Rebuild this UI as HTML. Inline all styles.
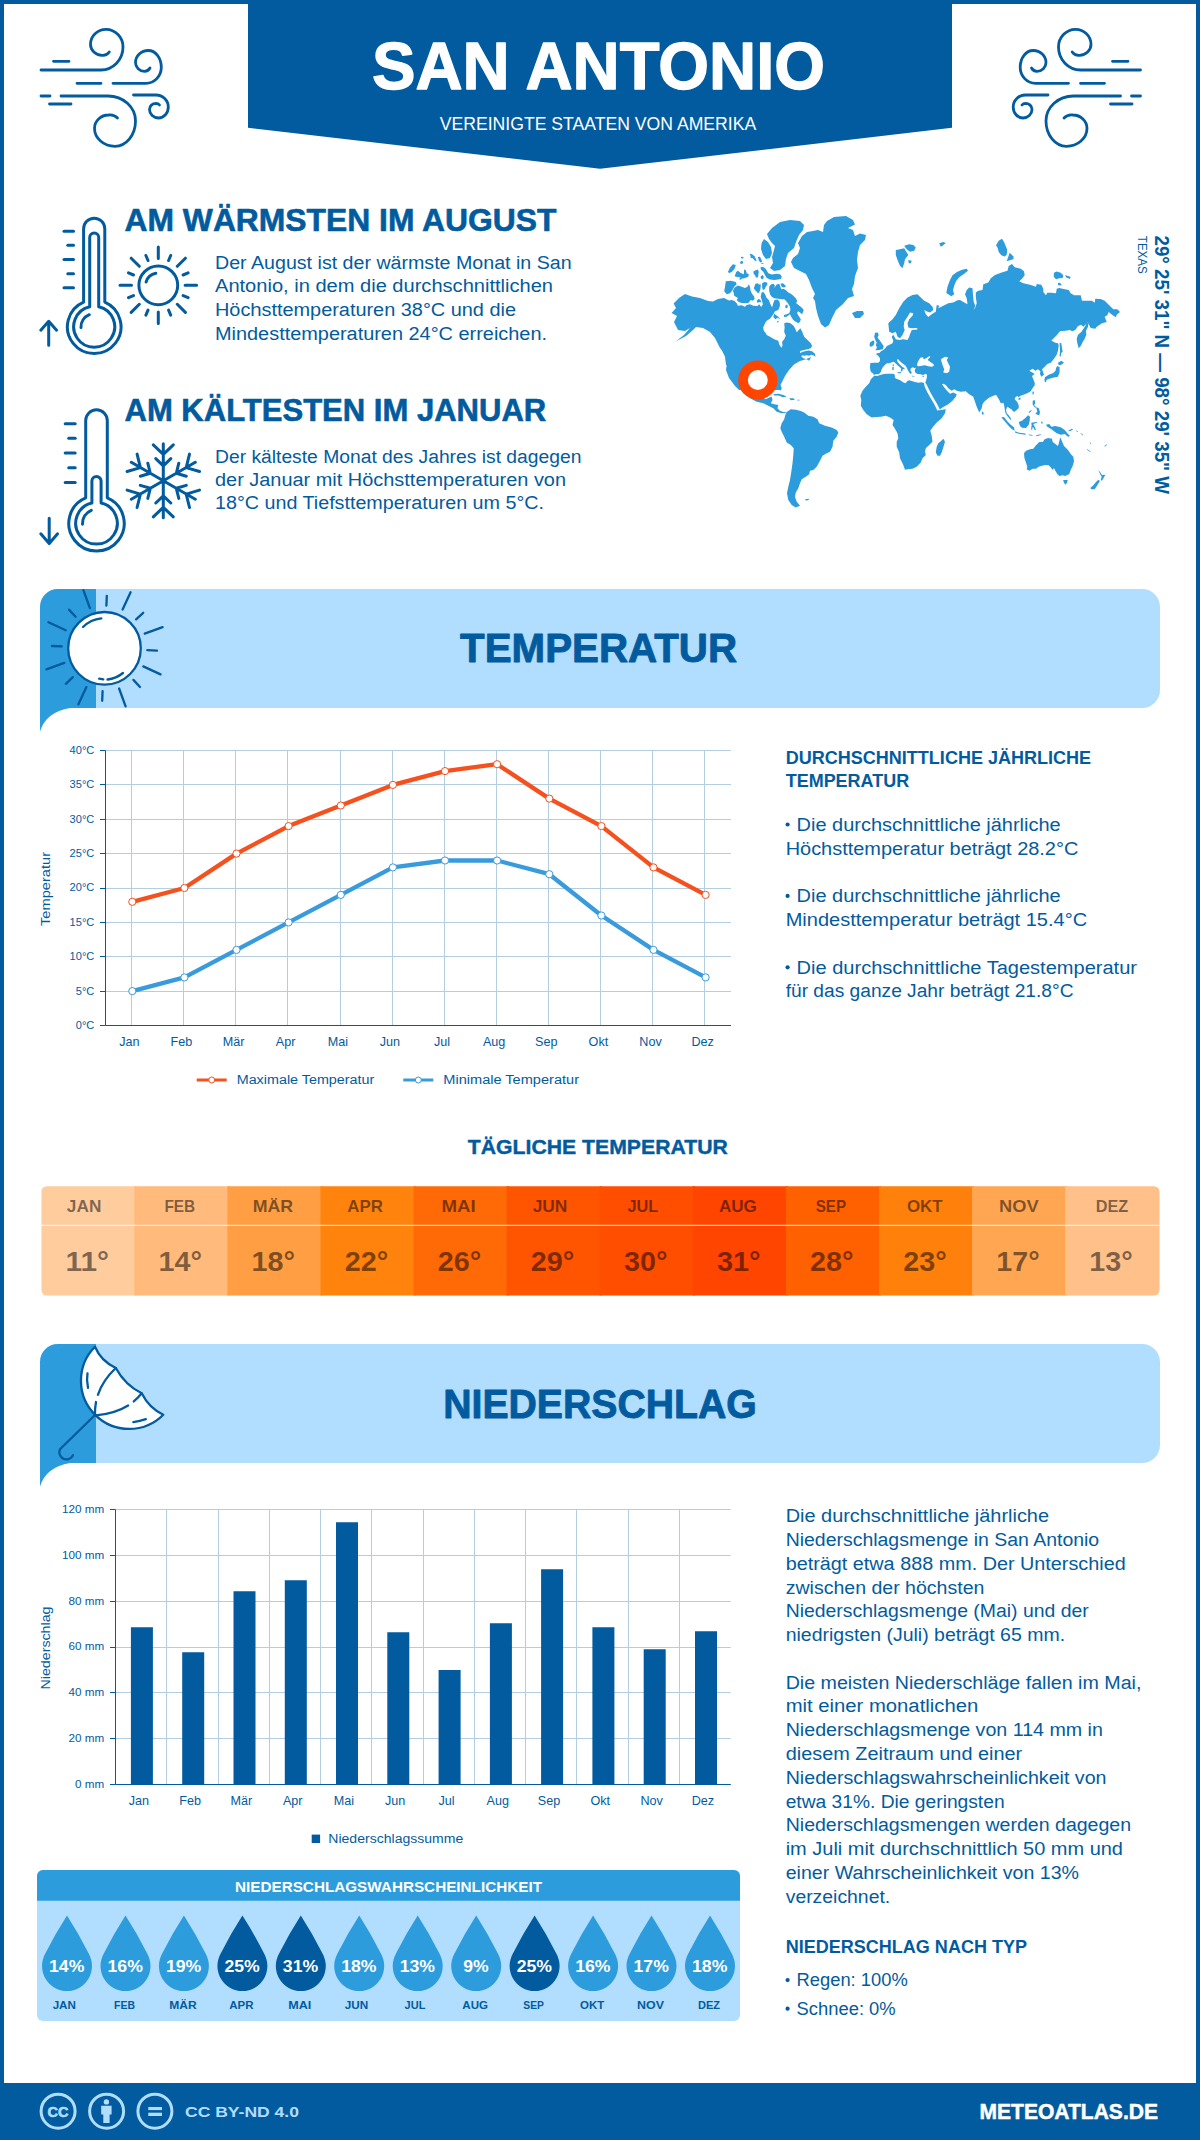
<!DOCTYPE html>
<html lang="de"><head><meta charset="utf-8"><title>San Antonio</title>
<style>
html,body{margin:0;padding:0;background:#fff}
body{width:1200px;height:2140px;overflow:hidden;font-family:"Liberation Sans",sans-serif}
svg{display:block;font-family:"Liberation Sans",sans-serif}
</style></head><body>
<svg width="1200" height="2140" viewBox="0 0 1200 2140">
<rect x="0" y="0" width="1200" height="2140" fill="#025b9e"/>
<rect x="4" y="4" width="1192" height="2079" fill="#fff"/>
<polygon points="248,0 952,0 952,127.8 600,168.8 248,127.8" fill="#025b9e"/>
<text x="598.5" y="89.0" font-size="67" font-weight="700" fill="#fff" stroke="#fff" stroke-width="1.3" stroke-linejoin="round" text-anchor="middle" textLength="453.0" lengthAdjust="spacingAndGlyphs">SAN ANTONIO</text>
<text x="598.0" y="130.4" font-size="18.5" fill="#fff" text-anchor="middle" textLength="316.5" lengthAdjust="spacingAndGlyphs">VEREINIGTE STAATEN VON AMERIKA</text>
<g fill="none" stroke="#025b9e" stroke-width="2.8" stroke-linecap="round" stroke-linejoin="round" ><path d="M41,70 H101 A22,23 0 0 0 123,47 A17,17.7 0 0 0 106,29.3 A15.5,15 0 0 0 90.5,44.3 A11.5,11 0 0 0 102,55.3 A8,8 0 0 0 109.3,52"/><path d="M113,83.3 H146 A15.3,16 0 0 0 161.3,67.3 A13,16.8 0 0 0 148.3,50.5 A12.8,12 0 0 0 135.5,62.5 A9,8.8 0 0 0 144.5,71.3 A6.5,6 0 0 0 150,68"/><path d="M61,96 H108 A27.5,25 0 0 1 135.5,121 A20.5,25.3 0 0 1 115,146.3 A20.5,18 0 0 1 94.5,128.3 A14,13.3 0 0 1 108.5,115 A10,9 0 0 1 117.5,118"/><path d="M133.5,95 H156 A12.3,12 0 0 1 168.3,107 A9.8,11 0 0 1 158.5,118 A9,8.5 0 0 1 149.5,109.5 A6.5,6.2 0 0 1 156,103.3 A4.5,4 0 0 1 159.5,105"/><path d="M53.5,61.3 H69 M77,83.3 H101 M41,96 H50 M49.5,104 H71"/></g>
<g fill="none" stroke="#025b9e" stroke-width="2.8" stroke-linecap="round" stroke-linejoin="round" transform="translate(1181.5,0) scale(-1,1)"><path d="M41,70 H101 A22,23 0 0 0 123,47 A17,17.7 0 0 0 106,29.3 A15.5,15 0 0 0 90.5,44.3 A11.5,11 0 0 0 102,55.3 A8,8 0 0 0 109.3,52"/><path d="M113,83.3 H146 A15.3,16 0 0 0 161.3,67.3 A13,16.8 0 0 0 148.3,50.5 A12.8,12 0 0 0 135.5,62.5 A9,8.8 0 0 0 144.5,71.3 A6.5,6 0 0 0 150,68"/><path d="M61,96 H108 A27.5,25 0 0 1 135.5,121 A20.5,25.3 0 0 1 115,146.3 A20.5,18 0 0 1 94.5,128.3 A14,13.3 0 0 1 108.5,115 A10,9 0 0 1 117.5,118"/><path d="M133.5,95 H156 A12.3,12 0 0 1 168.3,107 A9.8,11 0 0 1 158.5,118 A9,8.5 0 0 1 149.5,109.5 A6.5,6.2 0 0 1 156,103.3 A4.5,4 0 0 1 159.5,105"/><path d="M53.5,61.3 H69 M77,83.3 H101 M41,96 H50 M49.5,104 H71"/></g>
<g fill="none" stroke="#025b9e" stroke-width="3" stroke-linecap="round" stroke-linejoin="round">
<path d="M83.6,302.1 V228.8 A10.6,10.6 0 0 1 104.8,228.8 V302.1 A26.8,26.8 0 1 1 83.6,302.1Z"/>
<path d="M89.7,306.7 V237.5 A4.5,4.5 0 0 1 98.7,237.5 V306.7 A20.5,20.5 0 1 1 89.7,306.7Z"/>
<path d="M64.0,231.2 H73.5"/>
<path d="M67.8,245.3 H73.5"/>
<path d="M64.0,259.5 H73.5"/>
<path d="M67.8,273.7 H73.5"/>
<path d="M64.0,287.8 H73.5"/>
<path d="M81,327.6 A13.3,13.3 0 0 1 89.3,314.7"/>
<path d="M48.7,321.5 V345.2 M40.8,330.2 L48.7,321.3 L56.6,330.2"/>
<circle cx="158.3" cy="285.3" r="19.4"/>
<path d="M146.1,282 A12.6,12.6 0 0 1 155.8,273.3"/>
<path d="M185.1,285.3 L196.6,285.3M183.1,295.6 L188.1,297.7M177.3,304.3 L185.4,312.4M168.6,310.1 L170.7,315.1M158.3,312.1 L158.3,323.6M148.0,310.1 L145.9,315.1M139.3,304.3 L131.2,312.4M133.5,295.6 L128.5,297.7M131.5,285.3 L120.0,285.3M133.5,275.0 L128.5,272.9M139.3,266.3 L131.2,258.2M148.0,260.5 L145.9,255.5M158.3,258.5 L158.3,247.0M168.6,260.5 L170.7,255.5M177.3,266.3 L185.4,258.2M183.1,275.0 L188.1,272.9"/>
<path d="M85.7,497.8 V420.6 A10.8,10.8 0 0 1 107.3,420.6 V497.8 A27.7,27.7 0 1 1 85.7,497.8Z"/>
<path d="M91.9,503.0 V481.1 A4.6,4.6 0 0 1 101.1,481.1 V503.0 A20.8,20.8 0 1 1 91.9,503.0Z"/>
<path d="M65.2,423.7 H75.2"/>
<path d="M68.7,438.3 H75.2"/>
<path d="M65.2,453.0 H75.2"/>
<path d="M68.7,467.7 H75.2"/>
<path d="M65.2,482.5 H75.2"/>
<path d="M82.5,524.2 A14,14 0 0 1 91.3,510.3"/>
<path d="M49.2,518.2 V543 M40.8,533.8 L49.2,543.5 L57.6,533.8"/>
<path d="M163.3,480.8 L163.3,443.8M163.3,465.8 L170.8,458.6M163.3,465.8 L155.8,458.6M163.3,454.3 L173.3,444.8M163.3,454.3 L153.3,444.8M163.3,480.8 L131.3,462.3M150.3,473.3 L147.8,463.2M150.3,473.3 L140.3,476.2M140.4,467.6 L137.1,454.1M140.4,467.6 L127.1,471.5M163.3,480.8 L131.3,499.3M150.3,488.3 L140.3,485.4M150.3,488.3 L147.8,498.4M140.4,494.1 L127.1,490.1M140.4,494.1 L137.1,507.5M163.3,480.8 L163.3,517.8M163.3,495.8 L155.8,503.0M163.3,495.8 L170.8,503.0M163.3,507.3 L153.3,516.8M163.3,507.3 L173.3,516.8M163.3,480.8 L195.3,499.3M176.3,488.3 L178.8,498.4M176.3,488.3 L186.3,485.4M186.2,494.1 L189.5,507.5M186.2,494.1 L199.5,490.1M163.3,480.8 L195.3,462.3M176.3,473.3 L186.3,476.2M176.3,473.3 L178.8,463.2M186.2,467.6 L199.5,471.5M186.2,467.6 L189.5,454.1"/>
</g>
<text x="124.5" y="231.3" font-size="31.2" font-weight="700" fill="#025b9e" stroke="#025b9e" stroke-width="0.6" stroke-linejoin="round" textLength="432.0" lengthAdjust="spacingAndGlyphs">AM WÄRMSTEN IM AUGUST</text>
<text x="215.0" y="268.5" font-size="17.6" fill="#025b9e" textLength="356.6" lengthAdjust="spacingAndGlyphs">Der August ist der wärmste Monat in San</text>
<text x="215.0" y="292.3" font-size="17.6" fill="#025b9e" textLength="338.0" lengthAdjust="spacingAndGlyphs">Antonio, in dem die durchschnittlichen</text>
<text x="215.0" y="316.1" font-size="17.6" fill="#025b9e" textLength="301.0" lengthAdjust="spacingAndGlyphs">Höchsttemperaturen 38°C und die</text>
<text x="215.0" y="339.9" font-size="17.6" fill="#025b9e" textLength="332.0" lengthAdjust="spacingAndGlyphs">Mindesttemperaturen 24°C erreichen.</text>
<text x="124.5" y="421.0" font-size="31.2" font-weight="700" fill="#025b9e" stroke="#025b9e" stroke-width="0.6" stroke-linejoin="round" textLength="421.7" lengthAdjust="spacingAndGlyphs">AM KÄLTESTEN IM JANUAR</text>
<text x="215.0" y="462.9" font-size="17.6" fill="#025b9e" textLength="366.4" lengthAdjust="spacingAndGlyphs">Der kälteste Monat des Jahres ist dagegen</text>
<text x="215.0" y="485.9" font-size="17.6" fill="#025b9e" textLength="351.0" lengthAdjust="spacingAndGlyphs">der Januar mit Höchsttemperaturen von</text>
<text x="215.0" y="508.9" font-size="17.6" fill="#025b9e" textLength="329.0" lengthAdjust="spacingAndGlyphs">18°C und Tiefsttemperaturen um 5°C.</text>
<path d="M685.0,294.0 692.0,296.4 700.0,298.0 708.0,301.0 713.0,301.6 718.0,299.0 724.0,298.0 729.0,300.4 731.7,300.0 734.6,301.0 736.7,303.3 737.9,305.8 741.7,305.2 745.0,306.8 746.7,305.0 750.0,304.2 753.3,305.7 757.5,306.0 759.2,304.2 761.2,307.1 762.9,304.2 761.7,300.0 760.7,296.7 761.5,292.7 763.3,291.7 765.0,294.2 766.7,297.9 768.8,300.0 770.0,303.3 772.1,307.5 773.3,303.3 774.6,300.0 777.5,299.6 779.6,301.7 780.0,305.8 778.3,310.0 775.0,311.2 773.3,314.2 770.0,318.8 766.7,320.8 765.0,323.3 763.2,327.5 763.8,330.8 765.8,333.3 766.7,335.0 770.0,336.7 774.2,339.2 778.3,340.8 779.2,344.2 781.2,347.7 782.5,345.8 782.1,341.7 784.2,339.2 785.8,335.8 784.2,332.1 784.6,327.5 784.2,323.3 786.7,322.5 790.0,322.9 793.3,325.4 795.0,328.3 796.7,332.3 798.8,330.0 800.4,328.3 802.5,332.5 804.2,336.7 807.5,340.0 810.8,343.3 812.1,345.8 811.0,348.0 808.5,349.0 805.2,349.8 801.0,350.7 797.3,352.7 794.7,355.3 793.3,357.9 795.2,358.0 796.5,355.7 799.0,353.5 802.3,352.0 805.8,351.1 808.7,350.4 810.5,351.1 812.0,351.2 815.0,353.8 815.5,356.8 813.3,355.3 811.0,354.8 809.3,355.8 806.7,355.2 804.2,355.8 802.5,355.2 801.2,356.2 803.3,358.3 806.7,359.2 809.2,360.8 811.0,357.0 805.0,359.6 800.0,361.0 794.0,364.4 789.0,370.0 785.0,376.0 782.0,382.0 780.0,386.0 781.0,390.0 739.0,390.0 735.0,386.0 729.0,378.0 726.0,370.0 727.0,362.0 725.0,354.0 720.0,348.0 715.0,338.0 710.0,332.0 703.0,328.0 696.0,327.0 693.0,330.0 686.0,336.0 675.6,341.6 684.0,335.0 690.0,328.0 685.0,331.0 678.0,330.0 674.0,322.0 677.0,316.0 671.6,313.0 676.0,308.0 673.6,303.6 679.0,298.0ZM800.0,350.0 800.0,357.5 795.0,361.7 790.8,366.7 787.5,370.8 785.8,375.0 781.7,378.3 779.7,381.7 780.0,383.3 781.7,388.3 780.8,390.8 778.3,387.5 777.5,384.2 775.8,380.8 771.7,380.0 766.7,381.3 761.7,385.8 760.8,391.7 762.0,396.7 765.8,399.2 769.2,397.5 771.7,396.7 772.5,400.0 770.8,403.3 774.2,404.2 778.3,405.0 777.5,408.3 780.0,410.8 783.3,412.0 786.7,412.0 785.0,413.0 781.7,413.3 776.7,411.7 773.3,408.3 768.3,405.8 763.3,403.3 756.7,401.7 750.0,398.3 743.3,393.3 739.2,387.5 735.0,380.0 730.8,375.0 727.5,370.0 725.8,363.3 725.0,356.7 721.7,350.0ZM773.3,394.2 778.3,393.7 783.3,395.0 786.7,396.7 783.3,397.2 778.3,395.5 774.2,395.5ZM789.2,398.3 793.3,398.3 795.0,399.7 790.8,400.2ZM797.5,399.7 799.5,399.7 799.5,400.5 797.5,400.5ZM786.7,412.0 790.8,409.2 795.8,409.7 800.0,410.8 804.2,412.5 808.3,415.8 813.3,416.7 817.5,419.2 819.2,423.3 825.0,425.8 831.7,427.5 836.7,430.0 838.3,432.5 836.7,436.7 833.3,440.8 832.5,446.7 830.0,451.7 826.7,453.3 822.5,455.8 820.0,460.8 816.7,466.7 813.3,470.0 810.0,470.8 809.2,474.2 805.8,476.7 801.7,479.2 800.0,483.3 798.3,488.3 795.8,492.5 795.0,496.7 796.7,501.7 800.0,505.8 795.8,507.5 791.7,505.0 788.3,500.0 787.0,493.3 788.3,486.7 790.0,480.0 791.3,471.7 792.5,463.3 793.3,455.0 793.7,448.3 790.8,445.0 786.7,442.5 784.2,436.7 781.7,431.7 780.3,428.3 781.7,423.3 784.2,419.2 785.3,415.0ZM805.0,499.2 809.2,498.7 808.3,500.3 805.8,500.5ZM824.0,225.0 827.0,221.0 834.0,217.0 846.0,216.0 853.0,220.0 855.0,224.4 848.0,228.0 853.0,230.0 855.0,236.0 860.0,233.6 866.0,235.0 865.0,240.0 860.0,245.0 858.0,252.0 857.0,260.0 858.0,268.0 855.0,276.0 854.0,284.0 852.0,289.0 854.0,296.0 848.0,298.0 843.0,304.0 836.0,310.0 832.0,318.0 829.0,325.0 825.0,327.6 821.0,324.0 818.0,316.0 816.0,308.0 815.0,301.0 813.0,298.0 815.0,294.0 812.0,288.0 809.0,280.0 806.0,274.0 800.0,271.0 794.0,268.0 791.0,262.0 793.0,258.0 798.0,254.0 800.0,248.0 798.0,243.0 802.0,236.0 807.0,232.0 813.0,231.0 818.0,230.0 823.0,232.0ZM767.0,234.0 772.0,228.0 780.0,222.0 790.0,220.0 800.0,221.0 804.0,225.0 803.0,230.0 799.0,235.0 796.0,242.0 794.0,248.0 788.0,253.0 786.0,259.0 785.0,266.0 780.0,270.0 774.0,271.0 770.0,268.0 773.0,263.0 772.0,257.0 774.0,250.0 775.0,246.0 772.0,243.0 769.0,239.0ZM764.0,239.0 768.0,242.0 771.0,247.0 772.0,253.0 770.0,258.0 766.0,259.0 763.0,255.0 761.0,249.0 761.6,243.0ZM725.8,281.2 730.8,280.7 735.8,282.1 736.7,284.2 734.2,286.7 732.1,290.8 730.0,293.3 726.7,294.2 724.2,291.2 725.0,286.7ZM737.9,285.4 741.7,286.7 745.0,287.9 747.5,286.7 748.8,284.2 750.0,286.7 750.4,290.0 751.7,293.3 754.2,296.7 754.6,299.2 752.5,300.8 750.8,300.0 748.3,302.9 745.0,303.3 741.7,302.9 738.8,302.1 736.7,300.0 737.9,297.9 734.2,295.8 733.8,293.3 732.9,290.8 734.6,287.5ZM727.9,272.1 730.0,267.5 732.9,264.2 735.8,265.0 734.6,268.8 731.7,272.1 729.2,272.9ZM734.6,276.2 736.2,272.1 737.9,270.8 740.8,272.9 743.8,274.2 744.2,269.6 745.8,270.0 746.7,273.3 748.8,274.2 748.3,276.7 745.0,277.9 741.7,278.8 740.0,280.0 739.2,278.8 740.8,277.5 737.1,277.1ZM740.8,257.1 742.9,256.7 743.8,257.9 741.7,258.8ZM740.0,262.1 742.1,260.8 743.3,262.1 742.5,263.8 740.4,263.8ZM749.6,253.8 752.1,254.2 754.6,256.2 755.8,258.8 756.7,261.2 754.6,260.4 752.9,258.3 750.8,257.9 750.4,255.8ZM757.9,257.1 760.0,256.7 761.2,259.2 762.1,261.7 760.4,262.5 758.8,260.4ZM761.2,262.9 763.3,262.9 763.3,264.0 761.5,263.8ZM753.3,271.7 755.0,270.4 757.9,269.6 758.8,271.7 758.3,275.0 757.9,277.5 755.8,277.5 755.0,275.0 753.8,274.2ZM760.8,276.2 762.5,275.0 763.8,276.7 763.3,278.8 761.7,279.2 760.7,277.9ZM760.4,267.5 762.1,266.7 765.0,267.9 766.7,270.4 768.3,273.3 771.7,274.6 776.7,273.8 780.0,274.2 781.7,276.2 781.2,278.8 778.3,279.6 774.2,280.0 770.0,279.6 766.7,277.9 765.0,275.0 763.3,271.7 761.2,270.0ZM753.8,288.3 755.4,283.8 757.9,283.3 759.2,285.0 760.0,283.3 760.8,285.4 760.4,289.2 759.2,292.5 757.9,293.3 756.7,291.7 755.0,290.0ZM762.1,283.3 764.2,282.1 767.1,282.5 767.5,284.2 765.8,286.7 764.6,289.2 762.9,290.0 762.1,287.5ZM756.7,300.8 758.8,298.8 760.8,300.4 761.2,302.5 759.2,302.1 757.5,302.9ZM769.2,286.7 770.8,284.6 773.3,283.8 775.0,285.4 774.2,287.9 776.7,284.6 779.2,283.8 780.4,286.7 781.2,289.2 783.3,288.8 785.8,290.0 788.3,292.5 790.8,293.8 793.3,295.8 795.8,298.3 797.1,300.8 796.2,303.3 799.2,305.4 802.1,307.9 803.8,310.0 802.1,314.2 800.0,312.5 797.9,311.2 797.1,313.3 799.2,316.7 800.8,319.2 800.0,321.7 798.3,323.3 795.8,321.7 793.3,320.0 791.2,316.7 790.0,314.2 786.7,316.7 784.2,317.1 783.8,315.0 786.7,314.2 789.2,313.3 790.4,310.0 790.0,306.7 787.9,303.3 785.8,300.8 784.2,299.2 781.7,299.2 778.3,298.8 774.2,298.3 771.7,296.7 770.0,294.2 769.2,290.8ZM780.4,283.8 782.9,283.3 785.4,285.4 785.8,287.1 783.3,287.5 781.7,286.7ZM785.4,305.4 787.1,304.6 787.9,306.2 787.1,308.3 785.4,307.9ZM774.2,313.8 778.3,316.7 780.4,319.2 777.5,317.7 775.4,319.3 773.3,317.1ZM777.1,321.2 778.8,320.8 778.3,322.3 777.1,322.5ZM852.0,313.0 857.0,311.0 863.0,311.0 864.0,314.0 860.0,318.0 855.0,318.0ZM874.3,375.7 877.0,376.0 880.3,375.0 883.7,374.0 887.7,373.7 891.7,373.7 894.3,374.0 895.0,376.3 894.7,377.7 897.0,379.0 900.3,380.3 903.0,382.3 905.7,383.3 907.0,381.3 909.0,380.3 911.7,381.0 915.0,382.0 918.3,382.7 921.7,382.3 924.0,382.9 924.3,385.0 925.0,387.5 927.7,393.0 931.0,398.7 933.7,403.3 936.0,407.7 937.3,410.5 945.8,409.2 945.0,413.3 941.7,418.3 936.7,422.5 932.5,427.5 930.3,430.8 931.7,435.8 932.5,441.7 929.2,445.0 925.8,448.3 925.0,451.7 925.8,455.0 922.5,458.3 920.8,462.5 916.7,466.7 912.5,468.7 907.5,469.2 905.0,469.7 903.3,465.0 900.0,458.3 899.2,452.5 896.7,446.7 896.7,441.7 898.3,438.3 897.5,433.3 894.2,427.5 892.5,425.0 893.7,420.0 890.0,417.5 885.8,415.8 880.8,416.7 875.8,417.0 871.7,417.5 866.7,414.2 863.3,410.0 860.8,405.8 861.3,400.0 860.3,395.8 862.5,390.8 865.8,386.7 869.2,383.3 870.8,379.2ZM943.3,438.7 945.0,441.7 943.3,447.5 941.7,452.5 940.0,455.8 937.5,455.8 935.8,452.5 936.7,446.7 938.3,443.3 940.8,441.3ZM982.5,411.3 983.8,413.3 983.0,415.3 981.7,413.3ZM874.0,375.3 873.0,373.3 871.3,372.3 870.3,370.3 870.0,367.0 870.3,363.0 874.3,362.7 878.3,362.7 880.0,361.0 880.0,358.3 878.3,356.0 876.3,354.3 876.7,353.3 879.3,353.0 881.0,351.3 883.7,349.7 885.7,347.7 887.0,345.7 887.5,345.8 892.5,343.3 893.3,340.8 891.7,336.7 893.3,334.7 895.8,339.2 899.2,340.0 903.3,339.2 907.5,340.0 909.2,336.7 910.0,334.2 911.7,330.0 917.5,329.5 917.0,328.0 911.7,328.3 908.3,327.5 907.5,323.3 909.2,319.2 912.5,315.8 913.3,313.3 910.0,312.5 907.5,316.7 904.2,321.7 903.7,326.7 904.7,330.0 902.5,335.0 900.0,338.3 897.5,336.7 895.8,331.7 892.5,333.3 889.2,331.7 888.3,323.3 892.5,319.2 895.8,315.0 899.2,308.3 903.3,301.7 907.5,297.5 912.5,295.0 917.5,294.2 920.0,296.7 924.2,300.8 929.2,303.3 932.5,306.7 933.3,310.0 930.0,312.5 926.3,311.3 924.2,310.0 925.8,314.2 928.3,317.0 931.7,314.2 935.8,311.7 936.7,305.0 939.2,305.8 938.3,308.3 943.3,305.8 948.3,303.3 953.3,302.5 957.5,300.3 960.0,300.0 964.2,302.5 967.5,304.2 966.7,298.3 965.0,294.2 966.7,290.0 969.2,287.5 972.5,288.3 973.0,295.0 973.7,301.7 975.3,305.8 973.7,310.0 972.0,311.3 975.0,308.3 976.7,303.3 975.8,296.7 975.8,292.5 978.3,290.8 982.5,290.0 983.3,284.2 988.3,282.5 990.8,278.3 995.0,275.0 1001.7,272.5 1007.5,270.8 1008.7,266.0 1012.0,264.0 1014.7,267.3 1020.7,268.7 1024.0,271.3 1024.7,275.3 1022.0,278.7 1019.3,281.3 1023.3,283.3 1030.0,284.7 1036.0,286.7 1036.7,284.0 1041.3,284.7 1043.3,288.7 1043.3,292.0 1046.0,295.3 1047.3,292.7 1051.3,292.7 1056.0,293.3 1056.7,288.7 1059.3,288.0 1064.7,289.3 1068.7,290.0 1070.7,293.3 1074.0,295.3 1080.7,295.3 1082.0,300.7 1086.0,300.7 1092.0,300.7 1094.7,302.7 1095.3,298.7 1100.7,299.1 1104.7,300.7 1108.7,304.7 1113.3,309.3 1117.3,309.3 1120.0,312.0 1116.7,314.7 1116.0,317.3 1112.7,315.3 1108.7,312.0 1107.3,315.3 1104.7,316.7 1106.7,322.0 1102.0,323.3 1096.7,326.7 1095.3,328.7 1090.7,328.0 1089.3,325.3 1088.0,322.0 1086.0,324.0 1083.3,326.7 1081.3,324.7 1078.0,326.0 1075.3,330.0 1072.0,331.3 1070.0,330.0 1065.3,330.7 1060.0,331.3 1056.7,335.3 1054.0,338.0 1051.3,340.4 1055.3,342.7 1058.0,343.3 1058.7,345.3 1058.0,350.7 1056.7,354.7 1054.0,358.7 1050.7,362.7 1047.3,364.0 1044.7,366.7 1042.0,369.3 1043.3,372.7 1044.0,374.7 1041.3,376.7 1040.0,374.0 1040.4,371.3 1038.0,369.3 1035.3,370.7 1032.7,368.7 1029.3,370.7 1032.7,372.7 1034.7,374.0 1032.0,376.0 1033.3,379.3 1034.7,382.7 1034.7,385.3 1032.7,388.0 1030.7,391.3 1027.3,393.3 1023.3,394.7 1020.0,396.0 1018.7,397.3 1017.3,396.0 1015.3,397.3 1014.7,399.3 1017.3,402.0 1018.7,405.3 1018.7,408.0 1016.7,410.0 1014.0,412.0 1011.3,409.3 1007.3,406.7 1006.0,410.0 1006.7,413.3 1008.7,415.3 1010.7,418.0 1011.3,420.7 1010.0,419.3 1007.3,416.0 1005.3,412.7 1004.7,408.7 1004.0,404.7 1003.3,402.7 1000.7,403.3 999.3,400.0 997.3,396.7 996.0,394.7 992.7,396.0 990.0,397.3 988.3,398.3 984.2,401.7 982.5,404.2 981.7,408.3 979.2,412.5 976.7,406.7 975.0,401.7 973.3,396.7 971.7,395.8 969.2,394.2 965.8,391.3 960.8,391.7 956.7,390.8 954.2,389.2 951.7,390.8 948.3,388.3 945.8,385.0 943.3,383.7 942.0,384.3 944.7,388.0 947.5,391.3 950.0,393.7 953.3,392.5 956.7,394.2 955.8,396.7 952.5,400.8 948.3,404.2 943.3,407.0 939.7,409.5 939.0,407.7 936.7,403.3 934.0,398.7 930.7,393.0 928.0,387.5 926.7,384.7 925.3,382.7 926.7,378.3 927.0,375.0 926.0,373.8 923.0,375.0 920.3,374.3 917.7,374.0 915.7,373.0 914.7,371.0 915.0,369.0 916.3,367.7 914.3,368.0 912.7,367.3 911.0,368.3 910.3,370.3 911.7,372.3 911.0,374.3 909.7,373.0 908.3,371.0 907.0,368.3 905.7,365.7 903.7,364.3 901.7,362.7 899.7,361.0 898.3,359.3 897.3,359.3 897.0,360.7 898.3,362.7 900.3,365.0 902.3,367.0 904.3,368.0 904.7,369.3 903.0,369.0 902.3,370.7 901.3,371.7 900.7,370.3 901.3,368.7 899.7,367.0 898.0,365.7 896.3,364.0 895.0,362.7 893.7,361.7 891.7,362.3 889.7,363.3 887.0,363.3 885.0,364.7 883.0,367.0 881.7,369.3 881.0,371.7 879.3,373.7 877.7,374.3 875.0,374.3ZM897.0,372.3 901.0,372.0 900.7,373.3 898.3,373.3ZM892.3,367.0 893.7,367.0 893.7,370.0 892.3,370.0ZM892.7,364.3 893.7,364.3 893.7,366.3 892.7,366.3ZM911.7,375.7 914.3,376.0 914.2,376.7 911.7,376.3ZM922.3,376.0 924.3,375.7 924.0,376.7 922.5,376.8ZM875.0,332.8 877.8,332.5 878.7,335.0 877.5,337.5 879.5,340.0 881.7,343.3 883.7,346.2 882.8,349.2 879.2,350.0 875.3,350.3 877.0,347.5 875.8,345.0 876.7,342.5 875.3,340.0 874.2,336.7ZM870.0,342.5 873.3,340.3 874.5,342.0 873.7,345.3 870.8,347.0 869.5,345.3ZM966.7,268.7 968.0,270.8 964.2,273.7 959.5,277.0 956.3,280.8 954.2,285.8 953.0,290.3 954.2,294.2 951.3,296.3 946.3,293.0 947.5,286.7 950.0,280.0 952.5,275.3 957.0,272.0 962.0,269.7ZM895.8,250.0 900.0,249.2 904.2,248.3 908.3,255.0 905.0,259.2 904.2,263.3 902.5,268.3 900.0,265.8 897.5,260.0 895.8,255.0ZM904.2,245.8 909.2,244.2 913.3,245.0 915.8,247.5 914.2,250.8 910.0,251.7 906.7,249.2ZM908.3,260.0 911.7,260.8 910.8,263.3 908.7,263.3ZM939.2,243.3 943.3,242.0 945.8,243.0 942.5,245.8 940.8,246.7ZM996.0,245.3 998.7,240.7 1002.0,238.7 1004.0,242.0 1006.0,246.7 1007.3,250.0 1006.7,254.7 1004.7,256.4 1001.3,255.3 998.7,252.0 997.7,248.0ZM1006.7,261.3 1009.7,252.7 1013.7,256.7 1013.3,259.3ZM1054.0,272.7 1056.7,271.6 1060.7,272.7 1063.3,275.3 1062.7,278.0 1059.3,278.3 1056.0,279.3 1053.7,276.7ZM1065.3,275.1 1070.7,277.1 1069.7,279.1 1066.0,277.3ZM1058.0,283.1 1060.0,282.7 1062.0,285.3 1058.0,285.3ZM1088.7,322.0 1088.0,326.7 1086.0,330.7 1086.3,334.7 1084.7,338.7 1082.7,342.0 1080.7,346.0 1078.7,348.3 1077.3,343.3 1076.7,338.7 1078.0,334.7 1081.3,332.0 1084.0,328.0 1086.7,323.3ZM1059.6,342.7 1061.3,343.3 1062.0,348.0 1062.7,352.0 1061.3,352.7 1060.7,356.7 1059.6,356.0 1060.0,350.7ZM1058.0,362.7 1061.3,360.7 1064.0,362.7 1061.3,364.7 1058.7,365.3ZM1057.1,366.0 1059.7,367.3 1059.5,372.7 1057.9,376.8 1052.7,377.7 1048.7,379.1 1046.0,379.9 1044.4,380.8 1044.9,377.3 1048.7,374.7 1053.3,372.9 1055.5,370.7 1056.1,368.0ZM1044.4,379.3 1046.7,379.3 1046.0,382.4 1044.7,381.6ZM1018.3,398.4 1020.4,397.6 1020.7,399.3 1018.7,400.0ZM1032.7,391.3 1034.0,392.0 1033.3,394.7 1032.3,394.0ZM1032.7,400.7 1034.7,400.0 1035.3,403.3 1034.0,405.3 1036.0,406.7 1035.3,408.0 1032.7,404.7ZM1036.0,407.3 1038.7,408.0 1040.0,412.0 1039.3,415.3 1037.3,414.7 1035.3,413.3 1037.3,412.0 1036.7,409.3ZM1028.7,412.0 1031.3,410.0 1031.7,410.7 1029.3,412.9ZM1001.3,417.3 1004.0,417.1 1007.3,421.3 1010.7,424.7 1014.0,427.3 1014.7,430.7 1012.0,429.3 1008.7,426.0 1005.3,422.0ZM1014.7,431.3 1019.3,432.7 1025.3,433.6 1026.0,434.7 1020.0,434.0 1015.3,432.7ZM1028.7,434.4 1032.7,434.9 1032.4,435.7 1028.7,435.2ZM1036.0,435.3 1040.7,434.3 1040.9,434.9 1036.7,436.3ZM1018.7,422.0 1022.0,420.7 1025.3,418.0 1028.0,415.3 1030.0,416.7 1029.7,420.7 1028.7,424.7 1026.0,428.0 1022.0,427.7 1020.0,426.0ZM1031.3,422.7 1036.7,422.0 1037.3,422.7 1033.3,424.0 1034.7,426.7 1036.0,430.0 1034.7,430.0 1032.9,426.7 1032.0,430.0 1031.1,429.3 1031.6,425.3ZM1041.3,421.3 1042.7,422.0 1042.3,424.0 1041.3,423.3ZM1046.0,424.7 1049.3,424.0 1051.3,426.7 1055.3,426.0 1060.7,427.3 1064.7,430.0 1067.3,433.3 1070.0,436.0 1068.0,436.7 1064.7,434.0 1060.7,434.7 1056.7,433.3 1054.0,431.3 1050.7,428.7 1047.3,426.7ZM1068.0,430.7 1072.0,428.7 1073.3,429.3 1070.0,431.3ZM1076.0,430.4 1078.0,431.3 1077.7,432.0 1076.0,431.1ZM1080.7,433.1 1083.3,434.9 1082.9,435.5 1080.7,433.7ZM1090.0,442.0 1091.1,444.0 1090.5,444.3 1089.7,442.4ZM1087.3,449.1 1090.7,451.7 1090.3,452.3 1087.1,449.7ZM1104.4,446.0 1106.7,444.3 1107.1,444.8 1104.9,446.7ZM1024.0,453.3 1026.0,450.7 1030.0,449.3 1033.3,448.7 1036.0,445.3 1039.3,442.0 1042.7,442.0 1044.7,439.3 1048.0,438.0 1052.0,438.7 1052.7,442.0 1058.0,446.0 1059.3,441.3 1060.3,437.3 1062.0,441.3 1064.0,446.0 1068.0,450.0 1070.7,454.0 1073.3,456.7 1074.0,461.3 1072.7,466.0 1070.7,470.0 1069.3,474.0 1065.3,476.0 1062.7,475.3 1059.3,476.0 1057.3,474.0 1055.3,470.7 1054.0,468.0 1052.7,470.0 1050.7,467.3 1048.7,465.3 1045.3,464.9 1042.0,465.7 1038.7,466.7 1036.0,468.7 1032.7,468.7 1029.3,470.7 1026.7,469.3 1027.3,466.7 1026.0,462.7 1024.4,458.0ZM1063.1,480.0 1067.7,480.0 1067.1,482.7 1065.3,484.7 1064.0,482.7ZM1098.3,470.0 1100.0,472.0 1102.0,475.1 1105.3,474.7 1104.0,477.3 1102.0,480.7 1100.7,480.0 1101.7,476.7 1100.0,474.0ZM1098.0,480.0 1100.0,480.7 1097.3,485.3 1094.7,489.3 1091.3,489.3 1090.3,488.0 1093.3,485.3 1096.0,482.0Z" fill="#2d9cdc"/>
<path d="M917.0,364.3 918.3,361.0 920.3,357.7 923.0,357.3 923.7,359.3 926.3,358.3 928.3,356.7 930.3,356.0 930.0,357.3 928.3,359.0 927.7,360.0 930.7,362.3 933.7,364.3 933.7,366.0 931.7,366.7 928.3,366.3 925.0,365.3 921.7,365.7 919.0,366.3 917.3,366.0ZM940.8,359.2 945.0,356.7 948.3,357.5 946.7,360.0 948.3,363.3 950.0,366.7 949.2,371.7 946.7,373.3 943.3,372.5 944.2,369.2 942.5,365.0Z" fill="#fff"/>
<circle cx="757.8" cy="380" r="14.8" fill="#fff" stroke="#ff4500" stroke-width="9.6"/>
<text x="0.0" y="0.0" font-size="20" font-weight="700" fill="#025b9e" textLength="258.4" lengthAdjust="spacingAndGlyphs" transform="translate(1155,235.5) rotate(90)">29° 25' 31" N — 98° 29' 35" W</text>
<text x="0.0" y="0.0" font-size="12.8" fill="#025b9e" textLength="38.0" lengthAdjust="spacingAndGlyphs" transform="translate(1138,235.8) rotate(90)">TEXAS</text>
<path d="M58,589 H1142 A18,18 0 0 1 1160,607 V690 A18,18 0 0 1 1142,708 H40 V607 A18,18 0 0 1 58,589Z" fill="#b1ddff"/>
<path d="M58,589 H96 V708 H70 Q46,712 40,731.5 V607 A18,18 0 0 1 58,589Z" fill="#2d9cdc"/>
<g fill="none" stroke="#025b9e" stroke-width="2.3" stroke-linecap="round"><path d="M122.6,609.5 L130.6,592.3M106.4,605.5 L106.8,595.8M144.7,633.7 L162.6,627.2M136.1,619.4 L143.2,612.8M143.3,666.4 L160.5,674.4M147.3,650.2 L157.0,650.6M119.1,688.5 L125.6,706.4M133.4,679.9 L140.0,687.0M86.4,687.1 L78.4,704.3M102.6,691.1 L102.2,700.8M64.3,662.9 L46.4,669.4M72.9,677.2 L65.8,683.8M65.7,630.2 L48.5,622.2M61.7,646.4 L52.0,646.0M89.9,608.1 L83.4,590.2M75.6,616.7 L69.0,609.6"/>
<circle cx="104.5" cy="648.3" r="36.3" fill="#fff"/>
<path d="M83,627 A30.3,30.3 0 0 1 101.3,618.3 M107.5,679.5 A31,31 0 0 0 123,673 M99.2,678.6 L103.3,679.3"/></g>
<text x="598.6" y="662.3" font-size="40.8" font-weight="700" fill="#025b9e" stroke="#025b9e" stroke-width="0.9" stroke-linejoin="round" text-anchor="middle" textLength="277.0" lengthAdjust="spacingAndGlyphs">TEMPERATUR</text>
<path d="M58,1344 H1142 A18,18 0 0 1 1160,1362 V1445 A18,18 0 0 1 1142,1463 H40 V1362 A18,18 0 0 1 58,1344Z" fill="#b1ddff"/>
<path d="M58,1344 H96 V1463 H70 Q46,1467 40,1486.5 V1362 A18,18 0 0 1 58,1344Z" fill="#2d9cdc"/>
<g fill="none" stroke="#025b9e" stroke-width="2.3" stroke-linecap="round" stroke-linejoin="round">
<path d="M95.0,1346.7 A48,48 0 0 0 163.3,1414.7 Q149.2,1408.3 141.7,1393.3 Q125.0,1385.0 115.8,1368.0 Q100.8,1360.8 95.0,1346.7Z" fill="#fff"/>
<path d="M95.0,1415.0 L60.0,1449.2 A7,7 0 1 0 73.0,1455.3"/>
<path d="M95.0,1415.0 Q94.2,1388.3 115.8,1368.0" stroke-dasharray="13 7.5 60"/>
<path d="M95.8,1415.3 Q126.2,1413.0 141.7,1393.3" stroke-dasharray="34 7 60"/>
<path d="M87.5,1373.3 Q86.3,1380.0 88.0,1387.8 M133.3,1422.2 Q140.0,1421.3 145.8,1419.2"/>
</g>
<text x="600.0" y="1418.3" font-size="40.8" font-weight="700" fill="#025b9e" stroke="#025b9e" stroke-width="0.9" stroke-linejoin="round" text-anchor="middle" textLength="313.5" lengthAdjust="spacingAndGlyphs">NIEDERSCHLAG</text>
<path d="M105.5,991.5H731.0M105.5,956.5H731.0M105.5,922.5H731.0M105.5,888.5H731.0M105.5,853.5H731.0M105.5,819.5H731.0M105.5,784.5H731.0M105.5,750.5H731.0M131.5,750.5V1025.5M183.5,750.5V1025.5M235.5,750.5V1025.5M287.5,750.5V1025.5M340.5,750.5V1025.5M392.5,750.5V1025.5M444.5,750.5V1025.5M496.5,750.5V1025.5M548.5,750.5V1025.5M600.5,750.5V1025.5M652.5,750.5V1025.5M704.5,750.5V1025.5" stroke="#b4cde1" stroke-width="1" fill="none"/>
<path d="M105.5,750.5V1025.5H731.0M100.0,1025.5H105.5M100.0,991.5H105.5M100.0,956.5H105.5M100.0,922.5H105.5M100.0,888.5H105.5M100.0,853.5H105.5M100.0,819.5H105.5M100.0,784.5H105.5M100.0,750.5H105.5" stroke="#025b9e" stroke-width="1" fill="none"/>
<text x="94.3" y="1028.9" font-size="10.5" fill="#025b9e" text-anchor="end" textLength="18.5" lengthAdjust="spacingAndGlyphs">0°C</text>
<text x="94.3" y="994.5" font-size="10.5" fill="#025b9e" text-anchor="end" textLength="18.5" lengthAdjust="spacingAndGlyphs">5°C</text>
<text x="94.3" y="960.1" font-size="10.5" fill="#025b9e" text-anchor="end" textLength="24.7" lengthAdjust="spacingAndGlyphs">10°C</text>
<text x="94.3" y="925.8" font-size="10.5" fill="#025b9e" text-anchor="end" textLength="24.7" lengthAdjust="spacingAndGlyphs">15°C</text>
<text x="94.3" y="891.4" font-size="10.5" fill="#025b9e" text-anchor="end" textLength="24.7" lengthAdjust="spacingAndGlyphs">20°C</text>
<text x="94.3" y="857.0" font-size="10.5" fill="#025b9e" text-anchor="end" textLength="24.7" lengthAdjust="spacingAndGlyphs">25°C</text>
<text x="94.3" y="822.6" font-size="10.5" fill="#025b9e" text-anchor="end" textLength="24.7" lengthAdjust="spacingAndGlyphs">30°C</text>
<text x="94.3" y="788.3" font-size="10.5" fill="#025b9e" text-anchor="end" textLength="24.7" lengthAdjust="spacingAndGlyphs">35°C</text>
<text x="94.3" y="753.9" font-size="10.5" fill="#025b9e" text-anchor="end" textLength="24.7" lengthAdjust="spacingAndGlyphs">40°C</text>
<text x="129.3" y="1046.0" font-size="12.6" fill="#025b9e" text-anchor="middle">Jan</text>
<text x="181.4" y="1046.0" font-size="12.6" fill="#025b9e" text-anchor="middle">Feb</text>
<text x="233.5" y="1046.0" font-size="12.6" fill="#025b9e" text-anchor="middle">Mär</text>
<text x="285.6" y="1046.0" font-size="12.6" fill="#025b9e" text-anchor="middle">Apr</text>
<text x="337.8" y="1046.0" font-size="12.6" fill="#025b9e" text-anchor="middle">Mai</text>
<text x="389.9" y="1046.0" font-size="12.6" fill="#025b9e" text-anchor="middle">Jun</text>
<text x="442.0" y="1046.0" font-size="12.6" fill="#025b9e" text-anchor="middle">Jul</text>
<text x="494.1" y="1046.0" font-size="12.6" fill="#025b9e" text-anchor="middle">Aug</text>
<text x="546.3" y="1046.0" font-size="12.6" fill="#025b9e" text-anchor="middle">Sep</text>
<text x="598.4" y="1046.0" font-size="12.6" fill="#025b9e" text-anchor="middle">Okt</text>
<text x="650.5" y="1046.0" font-size="12.6" fill="#025b9e" text-anchor="middle">Nov</text>
<text x="702.6" y="1046.0" font-size="12.6" fill="#025b9e" text-anchor="middle">Dez</text>
<polyline points="132.3,901.8 184.4,888.0 236.5,853.6 288.6,826.1 340.8,805.5 392.9,784.9 445.0,771.1 497.1,764.2 549.3,798.6 601.4,826.1 653.5,867.4 705.6,894.9" fill="none" stroke="#f5511e" stroke-width="4.3" stroke-linejoin="round"/>
<g fill="#fff" stroke="#f5511e" stroke-width="1"><circle cx="132.3" cy="901.8" r="3.6"/><circle cx="184.4" cy="888.0" r="3.6"/><circle cx="236.5" cy="853.6" r="3.6"/><circle cx="288.6" cy="826.1" r="3.6"/><circle cx="340.8" cy="805.5" r="3.6"/><circle cx="392.9" cy="784.9" r="3.6"/><circle cx="445.0" cy="771.1" r="3.6"/><circle cx="497.1" cy="764.2" r="3.6"/><circle cx="549.3" cy="798.6" r="3.6"/><circle cx="601.4" cy="826.1" r="3.6"/><circle cx="653.5" cy="867.4" r="3.6"/><circle cx="705.6" cy="894.9" r="3.6"/></g>
<polyline points="132.3,991.1 184.4,977.4 236.5,949.9 288.6,922.4 340.8,894.9 392.9,867.4 445.0,860.5 497.1,860.5 549.3,874.2 601.4,915.5 653.5,949.9 705.6,977.4" fill="none" stroke="#3a9bdc" stroke-width="4.3" stroke-linejoin="round"/>
<g fill="#fff" stroke="#3a9bdc" stroke-width="1"><circle cx="132.3" cy="991.1" r="3.6"/><circle cx="184.4" cy="977.4" r="3.6"/><circle cx="236.5" cy="949.9" r="3.6"/><circle cx="288.6" cy="922.4" r="3.6"/><circle cx="340.8" cy="894.9" r="3.6"/><circle cx="392.9" cy="867.4" r="3.6"/><circle cx="445.0" cy="860.5" r="3.6"/><circle cx="497.1" cy="860.5" r="3.6"/><circle cx="549.3" cy="874.2" r="3.6"/><circle cx="601.4" cy="915.5" r="3.6"/><circle cx="653.5" cy="949.9" r="3.6"/><circle cx="705.6" cy="977.4" r="3.6"/></g>
<path d="M196.7,1080H226.7" stroke="#f5511e" stroke-width="3"/><circle cx="211.7" cy="1080" r="3" fill="#fff" stroke="#f5511e" stroke-width="1"/>
<text x="236.7" y="1083.8" font-size="12.5" fill="#025b9e" textLength="137.6" lengthAdjust="spacingAndGlyphs">Maximale Temperatur</text>
<path d="M403.3,1080H433.3" stroke="#3a9bdc" stroke-width="3"/><circle cx="418.3" cy="1080" r="3" fill="#fff" stroke="#3a9bdc" stroke-width="1"/>
<text x="443.3" y="1083.8" font-size="12.5" fill="#025b9e" textLength="135.7" lengthAdjust="spacingAndGlyphs">Minimale Temperatur</text>
<text x="0.0" y="0.0" font-size="13" fill="#025b9e" text-anchor="middle" textLength="74.0" lengthAdjust="spacingAndGlyphs" transform="translate(50.2,889) rotate(-90)">Temperatur</text>
<path d="M115.5,1738.5H730.8M115.5,1692.5H730.8M115.5,1647.5H730.8M115.5,1601.5H730.8M115.5,1555.5H730.8M115.5,1509.5H730.8M166.5,1509.5V1784.5M218.5,1509.5V1784.5M269.5,1509.5V1784.5M320.5,1509.5V1784.5M371.5,1509.5V1784.5M423.5,1509.5V1784.5M474.5,1509.5V1784.5M525.5,1509.5V1784.5M576.5,1509.5V1784.5M628.5,1509.5V1784.5M679.5,1509.5V1784.5" stroke="#b4cde1" stroke-width="1" fill="none"/>
<path d="M130.9,1784.5v-157.2h22v157.2zM182.2,1784.5v-132.2h22v132.2zM233.5,1784.5v-193.2h22v193.2zM284.8,1784.5v-204.2h22v204.2zM336.0,1784.5v-262.2h22v262.2zM387.3,1784.5v-152.2h22v152.2zM438.6,1784.5v-114.4h22v114.4zM489.9,1784.5v-161.3h22v161.3zM541.1,1784.5v-215.2h22v215.2zM592.4,1784.5v-157.2h22v157.2zM643.7,1784.5v-135.2h22v135.2zM695.0,1784.5v-153.3h22v153.3z" fill="#025b9e"/>
<path d="M115.5,1509.5V1784.5H730.8M110.0,1784.5H115.5M110.0,1738.5H115.5M110.0,1692.5H115.5M110.0,1647.5H115.5M110.0,1601.5H115.5M110.0,1555.5H115.5M110.0,1509.5H115.5" stroke="#025b9e" stroke-width="1" fill="none"/>
<text x="104.3" y="1787.9" font-size="10.5" fill="#025b9e" text-anchor="end" textLength="29.2" lengthAdjust="spacingAndGlyphs">0 mm</text>
<text x="104.3" y="1742.1" font-size="10.5" fill="#025b9e" text-anchor="end" textLength="35.7" lengthAdjust="spacingAndGlyphs">20 mm</text>
<text x="104.3" y="1696.2" font-size="10.5" fill="#025b9e" text-anchor="end" textLength="35.7" lengthAdjust="spacingAndGlyphs">40 mm</text>
<text x="104.3" y="1650.4" font-size="10.5" fill="#025b9e" text-anchor="end" textLength="35.7" lengthAdjust="spacingAndGlyphs">60 mm</text>
<text x="104.3" y="1604.6" font-size="10.5" fill="#025b9e" text-anchor="end" textLength="35.7" lengthAdjust="spacingAndGlyphs">80 mm</text>
<text x="104.3" y="1558.7" font-size="10.5" fill="#025b9e" text-anchor="end" textLength="42.3" lengthAdjust="spacingAndGlyphs">100 mm</text>
<text x="104.3" y="1512.9" font-size="10.5" fill="#025b9e" text-anchor="end" textLength="42.3" lengthAdjust="spacingAndGlyphs">120 mm</text>
<text x="138.8" y="1805.0" font-size="12.6" fill="#025b9e" text-anchor="middle">Jan</text>
<text x="190.1" y="1805.0" font-size="12.6" fill="#025b9e" text-anchor="middle">Feb</text>
<text x="241.4" y="1805.0" font-size="12.6" fill="#025b9e" text-anchor="middle">Mär</text>
<text x="292.7" y="1805.0" font-size="12.6" fill="#025b9e" text-anchor="middle">Apr</text>
<text x="343.9" y="1805.0" font-size="12.6" fill="#025b9e" text-anchor="middle">Mai</text>
<text x="395.2" y="1805.0" font-size="12.6" fill="#025b9e" text-anchor="middle">Jun</text>
<text x="446.5" y="1805.0" font-size="12.6" fill="#025b9e" text-anchor="middle">Jul</text>
<text x="497.8" y="1805.0" font-size="12.6" fill="#025b9e" text-anchor="middle">Aug</text>
<text x="549.0" y="1805.0" font-size="12.6" fill="#025b9e" text-anchor="middle">Sep</text>
<text x="600.3" y="1805.0" font-size="12.6" fill="#025b9e" text-anchor="middle">Okt</text>
<text x="651.6" y="1805.0" font-size="12.6" fill="#025b9e" text-anchor="middle">Nov</text>
<text x="702.9" y="1805.0" font-size="12.6" fill="#025b9e" text-anchor="middle">Dez</text>
<rect x="311.7" y="1834.6" width="8.4" height="8.4" fill="#025b9e"/>
<text x="328.3" y="1843.0" font-size="12.5" fill="#025b9e" textLength="135.0" lengthAdjust="spacingAndGlyphs">Niederschlagssumme</text>
<text x="0.0" y="0.0" font-size="13" fill="#025b9e" text-anchor="middle" textLength="83.0" lengthAdjust="spacingAndGlyphs" transform="translate(50.2,1648) rotate(-90)">Niederschlag</text>
<text x="785.7" y="763.7" font-size="18.7" font-weight="700" fill="#025b9e" textLength="305.4" lengthAdjust="spacingAndGlyphs">DURCHSCHNITTLICHE JÄHRLICHE</text>
<text x="785.7" y="786.9" font-size="18.7" font-weight="700" fill="#025b9e" textLength="123.5" lengthAdjust="spacingAndGlyphs">TEMPERATUR</text>
<circle cx="787.6" cy="824.5" r="2.1" fill="#025b9e"/>
<text x="796.6" y="830.8" font-size="17.6" fill="#025b9e" textLength="264.1" lengthAdjust="spacingAndGlyphs">Die durchschnittliche jährliche</text>
<text x="785.7" y="854.6" font-size="17.6" fill="#025b9e" textLength="292.6" lengthAdjust="spacingAndGlyphs">Höchsttemperatur beträgt 28.2°C</text>
<circle cx="787.6" cy="895.9" r="2.1" fill="#025b9e"/>
<text x="796.6" y="902.2" font-size="17.6" fill="#025b9e" textLength="264.1" lengthAdjust="spacingAndGlyphs">Die durchschnittliche jährliche</text>
<text x="785.7" y="926.0" font-size="17.6" fill="#025b9e" textLength="301.4" lengthAdjust="spacingAndGlyphs">Mindesttemperatur beträgt 15.4°C</text>
<circle cx="787.6" cy="967.3" r="2.1" fill="#025b9e"/>
<text x="796.6" y="973.6" font-size="17.6" fill="#025b9e" textLength="340.4" lengthAdjust="spacingAndGlyphs">Die durchschnittliche Tagestemperatur</text>
<text x="785.7" y="997.4" font-size="17.6" fill="#025b9e" textLength="287.8" lengthAdjust="spacingAndGlyphs">für das ganze Jahr beträgt 21.8°C</text>
<text x="597.8" y="1154.4" font-size="20.5" font-weight="700" fill="#025b9e" stroke="#025b9e" stroke-width="0.4" stroke-linejoin="round" text-anchor="middle" textLength="260.0" lengthAdjust="spacingAndGlyphs">TÄGLICHE TEMPERATUR</text>
<clipPath id="tc"><rect x="41.25" y="1186.2" width="1118.25" height="109.4" rx="5.5"/></clipPath><g clip-path="url(#tc)">
<rect x="41.25" y="1186" width="95.38" height="110" fill="#ffcc9e"/>
<rect x="134.33" y="1186" width="95.38" height="110" fill="#ffba7c"/>
<rect x="227.41" y="1186" width="95.38" height="110" fill="#ff9e42"/>
<rect x="320.49" y="1186" width="95.38" height="110" fill="#ff830d"/>
<rect x="413.57" y="1186" width="95.38" height="110" fill="#ff6a06"/>
<rect x="506.65" y="1186" width="95.38" height="110" fill="#ff5500"/>
<rect x="599.73" y="1186" width="95.38" height="110" fill="#ff4e00"/>
<rect x="692.81" y="1186" width="95.38" height="110" fill="#ff4500"/>
<rect x="785.89" y="1186" width="95.38" height="110" fill="#ff6000"/>
<rect x="878.97" y="1186" width="95.38" height="110" fill="#ff800a"/>
<rect x="972.05" y="1186" width="95.38" height="110" fill="#ffa653"/>
<rect x="1065.13" y="1186" width="95.38" height="110" fill="#ffc08a"/>
<rect x="41" y="1224.8" width="1119" height="1" fill="#fff" fill-opacity=".9"/></g>
<g fill="#000" fill-opacity=".5" font-weight="700" text-anchor="middle">
<text x="84.1" y="1211.8" font-size="17" textLength="34.5" lengthAdjust="spacingAndGlyphs">JAN</text><text x="87.2" y="1270.8" font-size="27.3" textLength="43.5" lengthAdjust="spacingAndGlyphs">11°</text>
<text x="179.8" y="1211.8" font-size="17" textLength="30.7" lengthAdjust="spacingAndGlyphs">FEB</text><text x="180.3" y="1270.8" font-size="27.3" textLength="43.5" lengthAdjust="spacingAndGlyphs">14°</text>
<text x="272.9" y="1211.8" font-size="17" textLength="40.5" lengthAdjust="spacingAndGlyphs">MÄR</text><text x="273.3" y="1270.8" font-size="27.3" textLength="43.5" lengthAdjust="spacingAndGlyphs">18°</text>
<text x="365.2" y="1211.8" font-size="17" textLength="35.7" lengthAdjust="spacingAndGlyphs">APR</text><text x="366.4" y="1270.8" font-size="27.3" textLength="43.5" lengthAdjust="spacingAndGlyphs">22°</text>
<text x="458.5" y="1211.8" font-size="17" textLength="34.2" lengthAdjust="spacingAndGlyphs">MAI</text><text x="459.5" y="1270.8" font-size="27.3" textLength="43.5" lengthAdjust="spacingAndGlyphs">26°</text>
<text x="550.0" y="1211.8" font-size="17" textLength="34.7" lengthAdjust="spacingAndGlyphs">JUN</text><text x="552.6" y="1270.8" font-size="27.3" textLength="43.5" lengthAdjust="spacingAndGlyphs">29°</text>
<text x="642.8" y="1211.8" font-size="17" textLength="30.7" lengthAdjust="spacingAndGlyphs">JUL</text><text x="645.7" y="1270.8" font-size="27.3" textLength="43.5" lengthAdjust="spacingAndGlyphs">30°</text>
<text x="737.9" y="1211.8" font-size="17" textLength="38.0" lengthAdjust="spacingAndGlyphs">AUG</text><text x="738.8" y="1270.8" font-size="27.3" textLength="43.5" lengthAdjust="spacingAndGlyphs">31°</text>
<text x="830.9" y="1211.8" font-size="17" textLength="30.4" lengthAdjust="spacingAndGlyphs">SEP</text><text x="831.8" y="1270.8" font-size="27.3" textLength="43.5" lengthAdjust="spacingAndGlyphs">28°</text>
<text x="924.8" y="1211.8" font-size="17" textLength="35.7" lengthAdjust="spacingAndGlyphs">OKT</text><text x="924.9" y="1270.8" font-size="27.3" textLength="43.5" lengthAdjust="spacingAndGlyphs">23°</text>
<text x="1018.8" y="1211.8" font-size="17" textLength="39.7" lengthAdjust="spacingAndGlyphs">NOV</text><text x="1018.0" y="1270.8" font-size="27.3" textLength="43.5" lengthAdjust="spacingAndGlyphs">17°</text>
<text x="1111.9" y="1211.8" font-size="17" textLength="32.5" lengthAdjust="spacingAndGlyphs">DEZ</text><text x="1111.1" y="1270.8" font-size="27.3" textLength="43.5" lengthAdjust="spacingAndGlyphs">13°</text>
</g>
<text x="785.7" y="1522.2" font-size="17.6" fill="#025b9e" textLength="263.3" lengthAdjust="spacingAndGlyphs">Die durchschnittliche jährliche</text>
<text x="785.7" y="1546.0" font-size="17.6" fill="#025b9e" textLength="313.5" lengthAdjust="spacingAndGlyphs">Niederschlagsmenge in San Antonio</text>
<text x="785.7" y="1569.8" font-size="17.6" fill="#025b9e" textLength="340.0" lengthAdjust="spacingAndGlyphs">beträgt etwa 888 mm. Der Unterschied</text>
<text x="785.7" y="1593.5" font-size="17.6" fill="#025b9e" textLength="198.7" lengthAdjust="spacingAndGlyphs">zwischen der höchsten</text>
<text x="785.7" y="1617.3" font-size="17.6" fill="#025b9e" textLength="303.0" lengthAdjust="spacingAndGlyphs">Niederschlagsmenge (Mai) und der</text>
<text x="785.7" y="1641.1" font-size="17.6" fill="#025b9e" textLength="279.4" lengthAdjust="spacingAndGlyphs">niedrigsten (Juli) beträgt 65 mm.</text>
<text x="785.7" y="1688.7" font-size="17.6" fill="#025b9e" textLength="355.7" lengthAdjust="spacingAndGlyphs">Die meisten Niederschläge fallen im Mai,</text>
<text x="785.7" y="1712.4" font-size="17.6" fill="#025b9e" textLength="192.5" lengthAdjust="spacingAndGlyphs">mit einer monatlichen</text>
<text x="785.7" y="1736.2" font-size="17.6" fill="#025b9e" textLength="317.2" lengthAdjust="spacingAndGlyphs">Niederschlagsmenge von 114 mm in</text>
<text x="785.7" y="1760.0" font-size="17.6" fill="#025b9e" textLength="236.5" lengthAdjust="spacingAndGlyphs">diesem Zeitraum und einer</text>
<text x="785.7" y="1783.8" font-size="17.6" fill="#025b9e" textLength="320.8" lengthAdjust="spacingAndGlyphs">Niederschlagswahrscheinlichkeit von</text>
<text x="785.7" y="1807.6" font-size="17.6" fill="#025b9e" textLength="218.9" lengthAdjust="spacingAndGlyphs">etwa 31%. Die geringsten</text>
<text x="785.7" y="1831.3" font-size="17.6" fill="#025b9e" textLength="345.4" lengthAdjust="spacingAndGlyphs">Niederschlagsmengen werden dagegen</text>
<text x="785.7" y="1855.1" font-size="17.6" fill="#025b9e" textLength="337.3" lengthAdjust="spacingAndGlyphs">im Juli mit durchschnittlich 50 mm und</text>
<text x="785.7" y="1878.9" font-size="17.6" fill="#025b9e" textLength="293.3" lengthAdjust="spacingAndGlyphs">einer Wahrscheinlichkeit von 13%</text>
<text x="785.7" y="1902.7" font-size="17.6" fill="#025b9e" textLength="104.5" lengthAdjust="spacingAndGlyphs">verzeichnet.</text>
<text x="785.7" y="1953.4" font-size="18.7" font-weight="700" fill="#025b9e" textLength="241.3" lengthAdjust="spacingAndGlyphs">NIEDERSCHLAG NACH TYP</text>
<circle cx="787.6" cy="1980.1" r="2.1" fill="#025b9e"/>
<text x="796.6" y="1986.4" font-size="17.6" fill="#025b9e" textLength="111.1" lengthAdjust="spacingAndGlyphs">Regen: 100%</text>
<circle cx="787.6" cy="2008.7" r="2.1" fill="#025b9e"/>
<text x="796.6" y="2015.0" font-size="17.6" fill="#025b9e" textLength="99.1" lengthAdjust="spacingAndGlyphs">Schnee: 0%</text>
<path d="M43,1870 H734 A6,6 0 0 1 740,1876 V2015 A6,6 0 0 1 734,2021 H43 A6,6 0 0 1 37,2015 V1876 A6,6 0 0 1 43,1870Z" fill="#b1ddff"/>
<path d="M43,1870 H734 A6,6 0 0 1 740,1876 V1900.7 H37 V1876 A6,6 0 0 1 43,1870Z" fill="#2d9cdc"/>
<text x="388.5" y="1892.4" font-size="15" font-weight="700" fill="#fff" text-anchor="middle" textLength="307.0" lengthAdjust="spacingAndGlyphs">NIEDERSCHLAGSWAHRSCHEINLICHKEIT</text>
<path d="M67.0,1915.6 Q78.8,1933.9 88.7,1953.6 A25.0,25.0 0 1 1 45.3,1953.6 Q55.2,1933.9 67.0,1915.6Z" fill="#2d9cdc"/>
<path d="M125.5,1915.6 Q137.3,1933.9 147.2,1953.6 A25.0,25.0 0 1 1 103.8,1953.6 Q113.7,1933.9 125.5,1915.6Z" fill="#2d9cdc"/>
<path d="M183.9,1915.6 Q195.7,1933.9 205.6,1953.6 A25.0,25.0 0 1 1 162.2,1953.6 Q172.1,1933.9 183.9,1915.6Z" fill="#2d9cdc"/>
<path d="M242.4,1915.6 Q254.2,1933.9 264.1,1953.6 A25.0,25.0 0 1 1 220.7,1953.6 Q230.6,1933.9 242.4,1915.6Z" fill="#025b9e"/>
<path d="M300.8,1915.6 Q312.6,1933.9 322.5,1953.6 A25.0,25.0 0 1 1 279.1,1953.6 Q289.0,1933.9 300.8,1915.6Z" fill="#025b9e"/>
<path d="M359.2,1915.6 Q371.0,1933.9 380.9,1953.6 A25.0,25.0 0 1 1 337.5,1953.6 Q347.4,1933.9 359.2,1915.6Z" fill="#2d9cdc"/>
<path d="M417.7,1915.6 Q429.5,1933.9 439.4,1953.6 A25.0,25.0 0 1 1 396.0,1953.6 Q405.9,1933.9 417.7,1915.6Z" fill="#2d9cdc"/>
<path d="M476.2,1915.6 Q488.0,1933.9 497.9,1953.6 A25.0,25.0 0 1 1 454.5,1953.6 Q464.4,1933.9 476.2,1915.6Z" fill="#2d9cdc"/>
<path d="M534.6,1915.6 Q546.4,1933.9 556.3,1953.6 A25.0,25.0 0 1 1 512.9,1953.6 Q522.8,1933.9 534.6,1915.6Z" fill="#025b9e"/>
<path d="M593.1,1915.6 Q604.9,1933.9 614.8,1953.6 A25.0,25.0 0 1 1 571.4,1953.6 Q581.3,1933.9 593.1,1915.6Z" fill="#2d9cdc"/>
<path d="M651.5,1915.6 Q663.3,1933.9 673.2,1953.6 A25.0,25.0 0 1 1 629.8,1953.6 Q639.7,1933.9 651.5,1915.6Z" fill="#2d9cdc"/>
<path d="M710.0,1915.6 Q721.8,1933.9 731.7,1953.6 A25.0,25.0 0 1 1 688.3,1953.6 Q698.2,1933.9 710.0,1915.6Z" fill="#2d9cdc"/>
<g font-weight="700" text-anchor="middle">
<text x="66.7" y="1972.4" font-size="17.3" fill="#fff" textLength="35.3" lengthAdjust="spacingAndGlyphs">14%</text><text x="64.3" y="2008.8" font-size="11.6" fill="#025b9e" textLength="23.3" lengthAdjust="spacingAndGlyphs">JAN</text>
<text x="125.2" y="1972.4" font-size="17.3" fill="#fff" textLength="35.3" lengthAdjust="spacingAndGlyphs">16%</text><text x="124.5" y="2008.8" font-size="11.6" fill="#025b9e" textLength="20.8" lengthAdjust="spacingAndGlyphs">FEB</text>
<text x="183.6" y="1972.4" font-size="17.3" fill="#fff" textLength="35.3" lengthAdjust="spacingAndGlyphs">19%</text><text x="182.9" y="2008.8" font-size="11.6" fill="#025b9e" textLength="27.4" lengthAdjust="spacingAndGlyphs">MÄR</text>
<text x="242.1" y="1972.4" font-size="17.3" fill="#fff" textLength="35.3" lengthAdjust="spacingAndGlyphs">25%</text><text x="241.4" y="2008.8" font-size="11.6" fill="#025b9e" textLength="24.2" lengthAdjust="spacingAndGlyphs">APR</text>
<text x="300.5" y="1972.4" font-size="17.3" fill="#fff" textLength="35.3" lengthAdjust="spacingAndGlyphs">31%</text><text x="299.8" y="2008.8" font-size="11.6" fill="#025b9e" textLength="23.1" lengthAdjust="spacingAndGlyphs">MAI</text>
<text x="358.9" y="1972.4" font-size="17.3" fill="#fff" textLength="35.3" lengthAdjust="spacingAndGlyphs">18%</text><text x="356.6" y="2008.8" font-size="11.6" fill="#025b9e" textLength="23.5" lengthAdjust="spacingAndGlyphs">JUN</text>
<text x="417.4" y="1972.4" font-size="17.3" fill="#fff" textLength="35.3" lengthAdjust="spacingAndGlyphs">13%</text><text x="415.0" y="2008.8" font-size="11.6" fill="#025b9e" textLength="20.8" lengthAdjust="spacingAndGlyphs">JUL</text>
<text x="475.9" y="1972.4" font-size="17.3" fill="#fff" textLength="25.4" lengthAdjust="spacingAndGlyphs">9%</text><text x="475.2" y="2008.8" font-size="11.6" fill="#025b9e" textLength="25.7" lengthAdjust="spacingAndGlyphs">AUG</text>
<text x="534.3" y="1972.4" font-size="17.3" fill="#fff" textLength="35.3" lengthAdjust="spacingAndGlyphs">25%</text><text x="533.6" y="2008.8" font-size="11.6" fill="#025b9e" textLength="20.6" lengthAdjust="spacingAndGlyphs">SEP</text>
<text x="592.8" y="1972.4" font-size="17.3" fill="#fff" textLength="35.3" lengthAdjust="spacingAndGlyphs">16%</text><text x="592.1" y="2008.8" font-size="11.6" fill="#025b9e" textLength="24.2" lengthAdjust="spacingAndGlyphs">OKT</text>
<text x="651.2" y="1972.4" font-size="17.3" fill="#fff" textLength="35.3" lengthAdjust="spacingAndGlyphs">17%</text><text x="650.5" y="2008.8" font-size="11.6" fill="#025b9e" textLength="26.9" lengthAdjust="spacingAndGlyphs">NOV</text>
<text x="709.7" y="1972.4" font-size="17.3" fill="#fff" textLength="35.3" lengthAdjust="spacingAndGlyphs">18%</text><text x="709.0" y="2008.8" font-size="11.6" fill="#025b9e" textLength="22.0" lengthAdjust="spacingAndGlyphs">DEZ</text>
</g>
<g fill="none" stroke="#b1ddff" stroke-width="3"><circle cx="58.1" cy="2111.2" r="17"/><circle cx="106.6" cy="2111.2" r="17"/><circle cx="154.9" cy="2111.2" r="17"/></g>
<text x="58.1" y="2116.6" font-size="15" font-weight="700" fill="#b1ddff" stroke="#b1ddff" stroke-width=".6" text-anchor="middle" textLength="21" lengthAdjust="spacingAndGlyphs">CC</text>
<g fill="#b1ddff"><circle cx="106.4" cy="2101.9" r="2.7"/><path d="M101.2,2105.7 h10.4 v8.7 h-2 v8.7 h-6.3 v-8.7 h-2.1z"/><rect x="148.3" y="2107" width="13.7" height="3.1"/><rect x="148.3" y="2112.7" width="13.7" height="3.3"/></g>
<text x="185.0" y="2116.5" font-size="15" font-weight="700" fill="#b1ddff" textLength="114.0" lengthAdjust="spacingAndGlyphs">CC BY-ND 4.0</text>
<text x="979.5" y="2119.4" font-size="21.5" font-weight="700" fill="#fff" stroke="#fff" stroke-width="0.5" stroke-linejoin="round" textLength="178.5" lengthAdjust="spacingAndGlyphs">METEOATLAS.DE</text>
</svg>
</body></html>
